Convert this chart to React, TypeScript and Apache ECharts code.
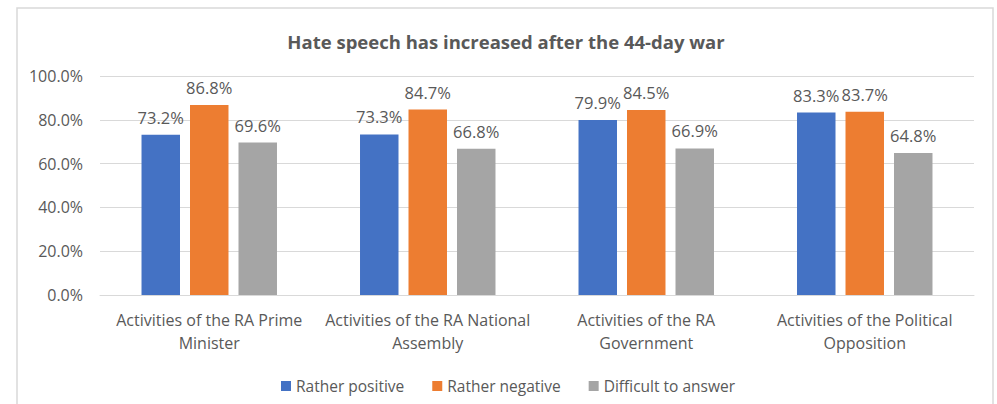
import React, { useEffect, useRef } from "react";
import * as echarts from "echarts";

const title = "Hate speech has increased after the 44-day war";
const categories = [
  "Activities of the RA Prime\nMinister",
  "Activities of the RA National\nAssembly",
  "Activities of the RA\nGovernment",
  "Activities of the Political\nOpposition",
];
const seriesNames = ["Rather positive", "Rather negative", "Difficult to answer"];
const ratherPositive = [73.2, 73.3, 79.9, 83.3];
const ratherNegative = [86.8, 84.7, 84.5, 83.7];
const difficult = [69.6, 66.8, 66.9, 64.8];
const colors = ["#4472C4", "#ED7D31", "#A5A5A5"];

const FONT = "Open Sans";
const TXT = "#595959";

export default function App() {
  const ref = useRef<HTMLDivElement>(null);
  useEffect(() => {
    if (!ref.current) return;
    const chart = echarts.init(ref.current, undefined, { renderer: "svg" });
    const values = [ratherPositive, ratherNegative, difficult];
    chart.setOption({
      animation: false,
      textStyle: { fontFamily: FONT },
      graphic: [
        {
          type: "rect",
          shape: { x: 17, y: 8, width: 976, height: 420 },
          style: { fill: "none", stroke: "#d9d9d9", lineWidth: 1.5 },
          silent: true,
        },
        {
          type: "text",
          x: 506,
          y: 41,
          style: {
            text: title,
            fill: TXT,
            font: `bold 18.5px ${FONT}`,
            textAlign: "center",
            textVerticalAlign: "middle",
          },
        },
      ],
      grid: { left: 100, right: 23, top: 76, bottom: 109, containLabel: false },
      legend: {
        left: 276,
        top: 373,
        itemWidth: 10,
        itemHeight: 10,
        itemGap: 28,
        icon: "rect",
        textStyle: { color: TXT, fontSize: 15.5, fontFamily: FONT },
        data: seriesNames,
      },
      xAxis: {
        type: "category",
        data: categories,
        axisLine: { lineStyle: { color: "#d9d9d9", width: 1 } },
        axisTick: { show: false },
        axisLabel: {
          color: TXT,
          fontSize: 16,
          lineHeight: 23,
          margin: 13,
          interval: 0,
          fontFamily: FONT,
        },
      },
      yAxis: {
        type: "value",
        min: 0,
        max: 100,
        interval: 20,
        axisLine: { show: false },
        axisTick: { show: false },
        splitLine: { lineStyle: { color: "#d9d9d9", width: 1 } },
        axisLabel: {
          color: TXT,
          fontSize: 16,
          margin: 17,
          fontFamily: FONT,
          formatter: (v: number) => v.toFixed(1) + "%",
        },
      },
      series: seriesNames.map((name, i) => ({
        name,
        type: "bar",
        data: values[i],
        itemStyle: { color: colors[i] },
        barGap: "26%",
        barCategoryGap: "38%",
        label: {
          show: true,
          position: "top",
          distance: 9,
          color: TXT,
          fontSize: 16.5,
          fontFamily: FONT,
          formatter: (p: any) => p.value.toFixed(1) + "%",
        },
      })),
    });
    return () => chart.dispose();
  }, []);
  return (
    <div
      ref={ref}
      style={{ position: "fixed", left: 0, top: 0, width: 997, height: 404, background: "#fff" }}
    />
  );
}
